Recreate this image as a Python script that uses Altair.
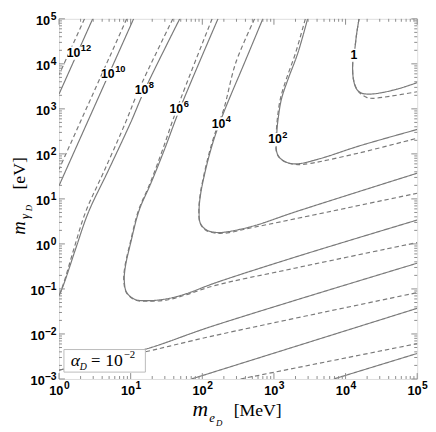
import altair as alt
import pandas as pd

# ---- contour curves: log10 coordinates ----
# curve "1"
C1S_LX = [4.188, 4.155, 4.119, 4.100, 4.110, 4.155, 4.223, 4.338, 4.521, 4.749, 5.0]
C1S_LY = [5.0, 4.673, 4.200, 4.019, 3.655, 3.437, 3.350, 3.328, 3.365, 3.452, 3.583]
C1D_LX = [4.188, 4.155, 4.119, 4.100, 4.110, 4.160, 4.215, 4.300, 4.384, 4.612, 5.0]
C1D_LY = [5.0, 4.673, 4.200, 4.019, 3.655, 3.430, 3.330, 3.250, 3.234, 3.278, 3.380]
# curve "10^2"
C2S_LX = [3.470, 3.333, 3.196, 3.105, 3.059, 3.041, 3.037, 3.082, 3.196, 3.333, 3.644, 4.192, 5.0]
C2S_LY = [5.0, 4.237, 3.655, 3.219, 2.783, 2.493, 2.057, 1.911, 1.802, 1.780, 1.894, 2.177, 2.543]
C2D_LX = [3.438, 3.301, 3.171, 3.089, 3.048, 3.034, 3.034, 3.082, 3.196, 3.333, 3.507, 4.192, 5.0]
C2D_LY = [5.0, 4.237, 3.655, 3.219, 2.783, 2.493, 2.057, 1.905, 1.796, 1.762, 1.789, 2.022, 2.349]
# curve "10^4"
C4S_LX = [2.845, 2.588, 2.319, 2.182, 2.100, 2.032, 1.977, 1.955, 1.973, 2.055, 2.192, 2.374, 2.740, 3.288, 5.0]
C4S_LY = [5.0, 4.019, 3.001, 2.421, 1.985, 1.549, 1.113, 0.749, 0.459, 0.313, 0.254, 0.276, 0.411, 0.706, 1.571]
C4D_LX = [2.730, 2.466, 2.301, 2.170, 2.090, 2.025, 1.972, 1.952, 1.970, 2.050, 2.192, 2.374, 2.603, 3.288, 5.0]
C4D_LY = [5.0, 4.019, 3.001, 2.421, 1.985, 1.549, 1.113, 0.749, 0.459, 0.305, 0.240, 0.250, 0.330, 0.555, 1.126]
# curve "10^6"
C6S_LX = [2.219, 1.685, 1.462, 1.278, 1.119, 1.000, 0.925, 0.911, 0.945, 1.062, 1.233, 1.507, 1.781, 2.164, 3.288, 5.0]
C6S_LY = [5.0, 2.995, 2.057, 1.331, 0.749, 0.023, -0.515, -0.820, -1.082, -1.234, -1.261, -1.219, -1.104, -0.875, -0.297, 0.531]
C6D_LX = [2.137, 1.644, 1.438, 1.267, 1.110, 0.993, 0.918, 0.904, 0.941, 1.062, 1.233, 1.507, 1.781, 2.164, 3.288, 5.0]
C6D_LY = [5.0, 2.995, 2.057, 1.331, 0.749, 0.023, -0.515, -0.820, -1.082, -1.245, -1.272, -1.245, -1.126, -0.929, -0.540, 0.030]
# curve "10^8" (steep branch and lower branch)
C8S_LX = [1.685, 1.192, 1.004, 0.685, 0.411, 0.229, 0.068, 0.0]
C8S_LY = [5.0, 3.409, 2.711, 1.621, 0.706, -0.123, -0.886, -1.154]
C8D_LX = [1.589, 1.110, 0.932, 0.630, 0.370, 0.205, 0.062, 0.0]
C8D_LY = [5.0, 3.409, 2.711, 1.621, 0.706, -0.123, -0.886, -1.147]
C8SB_LX = [0.0, 1.192, 2.137, 5.0]
C8SB_LY = [-2.804, -2.346, -1.829, -0.428]
C8DB_LX = [0.0, 1.192, 2.137, 5.0]
C8DB_LY = [-2.804, -2.401, -2.048, -1.082]
# curve "10^10"
C10S_LX = [1.041, 0.0]
C10S_LY = [5.0, 1.294]
C10D_LX = [0.945, 0.0]
C10D_LY = [5.0, 1.658]
C10SB_LX = [1.849, 5.0]
C10SB_LY = [-3.0, -1.430]
C10DB_LX = [2.534, 5.0]
C10DB_LY = [-3.0, -2.215]
# curve "10^12"
C12S_LX = [0.470, 0.0]
C12S_LY = [5.0, 3.328]
C12D_LX = [0.356, 0.0]
C12D_LY = [5.0, 3.757]
C12SB_LX = [3.836, 5.0]
C12SB_LY = [-3.0, -2.433]

# contour labels
LABEL_BASE = ["1", "10", "10", "10", "10", "10", "10"]
LABEL_EXP = ["", "2", "4", "6", "8", "10", "12"]
LABEL_LX = [4.116, 3.055, 2.267, 1.678, 1.192, 0.753, 0.274]
LABEL_LY = [4.193, 2.319, 2.668, 2.995, 3.409, 3.768, 4.237]

# axes
X_EXP = [0, 1, 2, 3, 4, 5]
Y_EXP = [-3, -2, -1, 0, 1, 2, 3, 4, 5]
MINOR_MULT = [2, 3, 4, 5, 6, 7, 8, 9]

W, H = 365, 367
FRAME = "#8c8c8c"
LINE = "#7a7a7a"
SANS = "Liberation Sans"
SERIF = "Liberation Serif"

curves = [
    ("c1", "solid", C1S_LX, C1S_LY), ("c1", "dashed", C1D_LX, C1D_LY),
    ("c2", "solid", C2S_LX, C2S_LY), ("c2", "dashed", C2D_LX, C2D_LY),
    ("c4", "solid", C4S_LX, C4S_LY), ("c4", "dashed", C4D_LX, C4D_LY),
    ("c6", "solid", C6S_LX, C6S_LY), ("c6", "dashed", C6D_LX, C6D_LY),
    ("c8", "solid", C8S_LX, C8S_LY), ("c8", "dashed", C8D_LX, C8D_LY),
    ("c8b", "solid", C8SB_LX, C8SB_LY), ("c8b", "dashed", C8DB_LX, C8DB_LY),
    ("c10", "solid", C10S_LX, C10S_LY), ("c10", "dashed", C10D_LX, C10D_LY),
    ("c10b", "solid", C10SB_LX, C10SB_LY), ("c10b", "dashed", C10DB_LX, C10DB_LY),
    ("c12", "solid", C12S_LX, C12S_LY), ("c12", "dashed", C12D_LX, C12D_LY),
    ("c12b", "solid", C12SB_LX, C12SB_LY),
]
rows = []
for cid, style, lxs, lys in curves:
    for i, (a, b) in enumerate(zip(lxs, lys)):
        rows.append({"curve": cid + style, "style": style, "i": i, "x": 10 ** a, "y": 10 ** b})
lines_df = pd.DataFrame(rows)

labels_df = pd.DataFrame({"b": LABEL_BASE, "e": LABEL_EXP,
                          "x": [10 ** v for v in LABEL_LX], "y": [10 ** v for v in LABEL_LY]})

xs = alt.Scale(type="log", domain=[1, 1e5], nice=False)
ys = alt.Scale(type="log", domain=[1e-3, 1e5], nice=False)
X = alt.X("x:Q", scale=xs, axis=None)
Y = alt.Y("y:Q", scale=ys, axis=None)

lines = alt.Chart(lines_df).mark_line(clip=True, strokeWidth=1.2, color=LINE,
                                      interpolate="catmull-rom").encode(
    x=X, y=Y,
    detail="curve:N",
    order=alt.Order("i:Q"),
    strokeDash=alt.StrokeDash("style:N", scale=alt.Scale(domain=["solid", "dashed"],
                                                          range=[[1, 0], [4.5, 3]]), legend=None),
)

RECT_PATH = "M-1,-0.62L1,-0.62L1,0.62L-1,0.62Z"
label_bg = alt.Chart(labels_df).mark_point(shape=RECT_PATH, filled=True, color="white",
                                           opacity=1, size=470, strokeWidth=0).encode(x=X, y=Y)


def lbl(filt, field, align, dx, dy, size):
    return alt.Chart(labels_df).transform_filter(filt).mark_text(
        font=SANS, fontWeight="bold", fontSize=size, color="black", align=align,
        baseline="middle", dx=dx, dy=dy).encode(x=X, y=Y, text=f"{field}:N")


label_txt = [
    lbl("datum.e == ''", "b", "center", 0, 0, 12.5),
    lbl("length(datum.e) == 1", "b", "right", 4, 0, 12.5),
    lbl("length(datum.e) == 1", "e", "left", 4.5, -5, 9.5),
    lbl("length(datum.e) == 2", "b", "right", 1.7, 0, 12.5),
    lbl("length(datum.e) == 2", "e", "left", 2.2, -5, 9.5),
]

# axis tick labels as 10 with raised exponent
xl_df = pd.DataFrame({"x": [10.0 ** e for e in X_EXP], "e": [str(e) for e in X_EXP]})
yl_df = pd.DataFrame({"y": [10.0 ** e for e in Y_EXP],
                      "e": [str(e).replace("-", "−") for e in Y_EXP],
                      "neg": [e < 0 for e in Y_EXP]})


def axt(df, enc, field, align, size, dx=0, dy=0, filt=None, baseline="alphabetic"):
    c = alt.Chart(df)
    if filt:
        c = c.transform_filter(filt)
    return c.mark_text(font=SANS, fontWeight="bold", fontSize=size, color="black",
                       align=align, baseline=baseline, dx=dx, dy=dy).encode(
        text=alt.value("10") if field is None else f"{field}:N", **enc)


x_lab = [
    axt(xl_df, dict(x=X, y=alt.value(H + 16)), None, "right", 13, dx=4.5),
    axt(xl_df, dict(x=X, y=alt.value(H + 10.5)), "e", "left", 10.5, dx=5),
]
y_lab = [
    axt(yl_df, dict(y=Y, x=alt.value(-2.5)), "e", "right", 10.5, dy=1.5),
    axt(yl_df, dict(y=Y, x=alt.value(-9)), None, "right", 13, dy=6.5, filt="!datum.neg"),
    axt(yl_df, dict(y=Y, x=alt.value(-14.5)), None, "right", 13, dy=6.5, filt="datum.neg"),
]

# inside ticks on all four sides
x_major = [10.0 ** e for e in X_EXP]
x_minor = [m * 10.0 ** e for e in X_EXP[:-1] for m in MINOR_MULT]
y_major = [10.0 ** e for e in Y_EXP]
y_minor = [m * 10.0 ** e for e in Y_EXP[:-1] for m in MINOR_MULT]


def xticks(vals, length):
    df = pd.DataFrame({"x": vals})
    b = alt.Chart(df).mark_rule(color=FRAME, strokeWidth=1)
    return [b.encode(x=X, y=alt.value(H), y2=alt.value(H - length)),
            b.encode(x=X, y=alt.value(0), y2=alt.value(length))]


def yticks(vals, length):
    df = pd.DataFrame({"y": vals})
    b = alt.Chart(df).mark_rule(color=FRAME, strokeWidth=1)
    return [b.encode(y=Y, x=alt.value(0), x2=alt.value(length)),
            b.encode(y=Y, x=alt.value(W), x2=alt.value(W - length))]


ticks = xticks(x_major, 6) + xticks(x_minor, 3) + yticks(y_major, 6) + yticks(y_minor, 3)

one = pd.DataFrame({"a": [0]})


def txt(s, x, y, size, italic=False, angle=0, font=SERIF, align="left"):
    kw = dict(font=font, fontSize=size, color="black", align=align, baseline="alphabetic")
    if italic:
        kw["fontStyle"] = "italic"
    if angle:
        kw["angle"] = angle
    return alt.Chart(one).mark_text(**kw).encode(x=alt.value(x), y=alt.value(y), text=alt.value(s))


legend_box = alt.Chart(one).mark_rect(fill="white", stroke="#bbbbbb", strokeWidth=1).encode(
    x=alt.value(5), x2=alt.value(88), y=alt.value(337), y2=alt.value(360))
legend_txt = [
    txt("α", 12, 354, 18, italic=True),
    txt("D", 21, 358, 10, italic=True),
    txt("=", 32.5, 354, 17),
    txt("10", 47, 354, 18),
    txt("−2", 66, 346, 11),
]

titles = [
    # x title: m_{e_D} [MeV]
    txt("m", 136, 405, 22, italic=True),
    txt("e", 153, 411, 13, italic=True),
    txt("D", 160, 415, 9, italic=True),
    txt("[MeV]", 178, 405, 18),
    # y title: m_{gamma_D} [eV]
    txt("m", -34.5, 220, 19, italic=True, angle=270),
    txt("γ", -31, 204, 13, italic=True, angle=270),
    txt("D", -28, 196, 9, italic=True, angle=270),
    txt("[eV]", -34.5, 174, 18, angle=270),
]

chart = alt.layer(lines, *ticks, label_bg, *label_txt, *x_lab, *y_lab,
                  legend_box, *legend_txt, *titles).properties(
    width=W, height=H,
    autosize=alt.AutoSizeParams(type="none"),
    padding={"left": 52, "top": 7, "right": 11, "bottom": 50},
).configure_view(stroke=FRAME, strokeWidth=1).configure(background="white")

chart.save("out.html", embed_options={"renderer": "svg", "actions": False})
